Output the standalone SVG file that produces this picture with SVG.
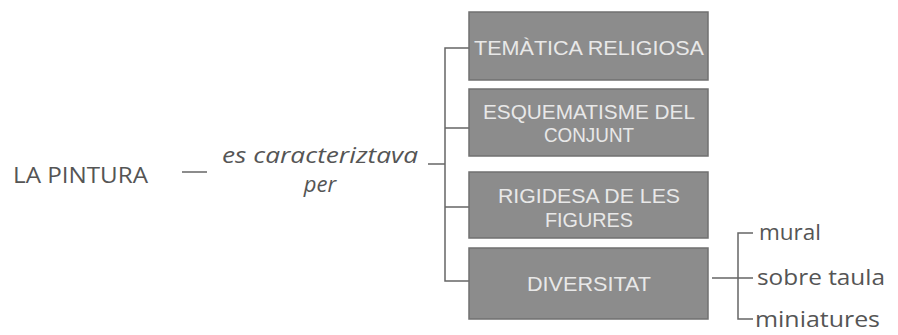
<svg xmlns="http://www.w3.org/2000/svg" width="898" height="335" viewBox="0 0 898 335">
<style>
.box{fill:#8c8c8c;stroke:#707070;stroke-width:1.5}
.bt{font-family:"Liberation Sans","Open Sans",sans-serif;font-size:20px;fill:#e8e8e8;text-anchor:middle}
.lbl{font-family:"Open Sans","Liberation Sans",sans-serif;fill:#555;font-size:22px}
.it{font-style:italic}
.ln{stroke:#666;stroke-width:1.5;fill:none}
</style>
<rect width="898" height="335" fill="#fff"/>
<g id="connectors">
<path class="ln" d="M182 172H207"/>
<path class="ln" d="M428 164H445"/>
<path class="ln" d="M470 48H445V281H470M445 128H470M445 207H470"/>
<path class="ln" d="M753 233H738V319H753M712 278H753"/>
</g>
<g id="n-pintura"><text class="lbl" x="13" y="183" font-size="24" textLength="135" lengthAdjust="spacingAndGlyphs">LA PINTURA</text></g>
<g id="n-caract">
<text class="lbl it" x="320" y="163" text-anchor="middle" textLength="196" lengthAdjust="spacingAndGlyphs">es caracteriztava</text>
<text class="lbl it" x="320" y="192" text-anchor="middle">per</text>
</g>
<g id="n-tematica"><rect class="box" x="469" y="12" width="239" height="68"/>
<text class="bt" x="589" y="55" textLength="230" lengthAdjust="spacingAndGlyphs">TEMÀTICA RELIGIOSA</text></g>
<g id="n-esquematisme"><rect class="box" x="469" y="89" width="239" height="67"/>
<text class="bt" x="589" y="119" textLength="212" lengthAdjust="spacingAndGlyphs">ESQUEMATISME DEL</text>
<text class="bt" x="589" y="142" textLength="90" lengthAdjust="spacingAndGlyphs">CONJUNT</text></g>
<g id="n-rigidesa"><rect class="box" x="469" y="172" width="239" height="66"/>
<text class="bt" x="589" y="203" textLength="182" lengthAdjust="spacingAndGlyphs">RIGIDESA DE LES</text>
<text class="bt" x="589" y="227" textLength="88" lengthAdjust="spacingAndGlyphs">FIGURES</text></g>
<g id="n-diversitat"><rect class="box" x="469" y="248" width="239" height="71"/>
<text class="bt" x="589" y="291" textLength="124" lengthAdjust="spacingAndGlyphs">DIVERSITAT</text></g>
<g id="n-mural"><text class="lbl" x="759" y="240" font-size="21" textLength="62" lengthAdjust="spacingAndGlyphs">mural</text></g>
<g id="n-sobretaula"><text class="lbl" x="757" y="285" font-size="21" textLength="128" lengthAdjust="spacingAndGlyphs">sobre taula</text></g>
<g id="n-miniatures"><text class="lbl" x="755" y="327" font-size="21" textLength="125" lengthAdjust="spacingAndGlyphs">miniatures</text></g>
</svg>
